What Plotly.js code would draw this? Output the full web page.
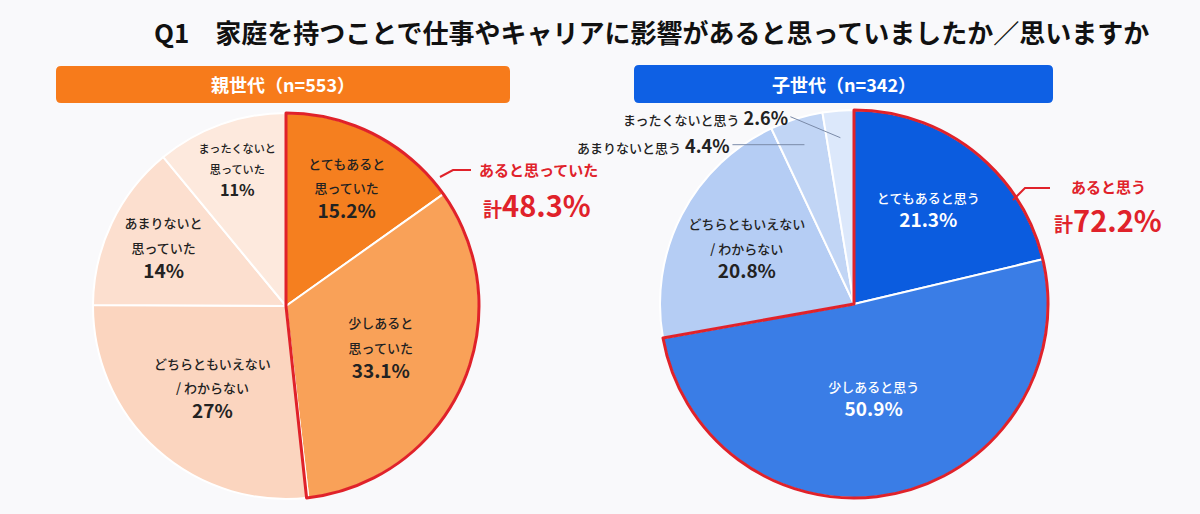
<!DOCTYPE html>
<html>
<head>
<meta charset="utf-8">
<script src="https://cdn.plot.ly/plotly-3.0.1.min.js"></script>
<style>
  html, body { margin: 0; padding: 0; background: #f9f9fb; }
  #chart { width: 1200px; height: 514px; }
</style>
</head>
<body>
<div id="chart"></div>
<script>
// data
const parentLabels = ['とてもあると<br>思っていた', '少しあると<br>思っていた', 'どちらともいえない<br>/ わからない', 'あまりないと<br>思っていた', 'まったくないと<br>思っていた'];
const parentValues = [15.2, 33.1, 27, 14, 11];
const parentColors = ['#f57f1f', '#f9a158', '#fbd5bf', '#fcdfcf', '#fde9dd'];

const childLabels = ['とてもあると思う', '少しあると思う', 'どちらともいえない<br>/ わからない', 'あまりないと思う', 'まったくないと思う'];
const childValues = [21.3, 50.9, 20.8, 4.4, 2.6];
const childColors = ['#0b5cdf', '#3a7de6', '#b5cdf4', '#c1d5f5', '#dce8fb'];

const parentTitle = '親世代（n=553）';
const childTitle = '子世代（n=342）';
const parentCallout = 'あると思っていた';
const childCallout = 'あると思う';

const W = 1200, H = 514;
const FONT = '"Noto Sans CJK JP", "Noto Sans", sans-serif';
const RED = '#e0222a';

// pixel -> paper helpers
function px(x) { return x / W; }
function py(y) { return 1 - y / H; }

function domainFor(cx, cy, r) {
    return { x: [px(cx - r), px(cx + r)], y: [py(cy + r), py(cy - r)] };
}

function sumFirst(vals, n) {
    let s = 0;
    for (let i = 0; i < n; i++) s += vals[i];
    return Math.round(s * 10) / 10;
}

function roundRect(x0, y0, x1, y1, r) {
    const rx = r / W, ry = r / H;
    const a = px(x0), b = px(x1), t = py(y0), d = py(y1);
    return 'M' + (a + rx) + ',' + t +
        ' L' + (b - rx) + ',' + t + ' Q' + b + ',' + t + ' ' + b + ',' + (t - ry) +
        ' L' + b + ',' + (d + ry) + ' Q' + b + ',' + d + ' ' + (b - rx) + ',' + d +
        ' L' + (a + rx) + ',' + d + ' Q' + a + ',' + d + ' ' + a + ',' + (d + ry) +
        ' L' + a + ',' + (t - ry) + ' Q' + a + ',' + t + ' ' + (a + rx) + ',' + t + ' Z';
}

function linePath(pts) {
    return pts.map((p, i) => (i ? 'L' : 'M') + px(p[0]) + ',' + py(p[1])).join(' ');
}

// small label lines, big percentage line underneath
function smallLines(label) {
    return label.split('<br>').map(l => '<span style="font-size:13px">' + l + '</span>').join('<br>');
}

const leftPie = { cx: 286, cy: 306, r: 193 };
const rightPie = { cx: 854, cy: 304, r: 194 };
const leftDomain = domainFor(leftPie.cx, leftPie.cy, leftPie.r);
const rightDomain = domainFor(rightPie.cx, rightPie.cy, rightPie.r);

function mainPie(labels, values, colors, textColors, positions, domain) {
    return {
        type: 'pie',
        labels: labels,
        values: values,
        text: labels.map(smallLines),
        sort: false,
        direction: 'clockwise',
        rotation: 0,
        domain: domain,
        marker: { colors: colors, line: { color: '#ffffff', width: 2 } },
        texttemplate: '%{text}<br><b>%{value}%</b>',
        textposition: positions,
        insidetextorientation: 'horizontal',
        insidetextfont: { family: FONT, size: 19, color: textColors, weight: 500 },
        hoverinfo: 'label+value',
        showlegend: false
    };
}

// transparent overlay that only outlines the "あると" share in red
function outlinePie(values, n, domain) {
    const yes = sumFirst(values, n);
    return {
        type: 'pie',
        labels: ['yes', 'rest'],
        values: [yes, Math.round((100 - yes) * 10) / 10],
        sort: false,
        direction: 'clockwise',
        rotation: 0,
        domain: domain,
        marker: {
            colors: ['rgba(0,0,0,0)', 'rgba(0,0,0,0)'],
            line: { color: [RED, 'rgba(0,0,0,0)'], width: 3 }
        },
        textinfo: 'none',
        hoverinfo: 'skip',
        showlegend: false
    };
}

// point on a slice (middle angle, fraction k of radius), in paper coords
function slicePoint(values, idx, pie, k) {
    let total = 0, before = 0;
    values.forEach((v, i) => { total += v; if (i < idx) before += v; });
    const ang = (before + values[idx] / 2) / total * 2 * Math.PI;
    return { x: px(pie.cx + pie.r * k * Math.sin(ang)), y: py(pie.cy - pie.r * k * Math.cos(ang)) };
}

const data = [
    mainPie(parentLabels, parentValues, parentColors, ['#222', '#222', '#222', '#222', '#222'],
        ['inside', 'inside', 'inside', 'inside', 'inside'], leftDomain),
    outlinePie(parentValues, 2, leftDomain),
    mainPie(childLabels, childValues, childColors, ['#fff', '#fff', '#222', '#222', '#222'],
        ['inside', 'inside', 'inside', 'none', 'none'], rightDomain),
    outlinePie(childValues, 2, rightDomain)
];

const parentYes = sumFirst(parentValues, 2).toFixed(1);
const childYes = sumFirst(childValues, 2).toFixed(1);

function note(text, x, y, size, color) {
    return { text: text, x: px(x), y: py(y), xref: 'paper', yref: 'paper', xanchor: 'center', yanchor: 'middle',
        showarrow: false, font: { family: FONT, size: size, color: color } };
}

// labels for the two thin slices of the right pie, pulled out with leader lines
function sliceCallout(idx, dx, dy) {
    const p = slicePoint(childValues, idx, rightPie, 0.86);
    return {
        text: '<span style="font-size:13px">' + childLabels[idx] + '</span> <b>' + childValues[idx] + '%</b>',
        x: p.x, y: p.y, xref: 'paper', yref: 'paper',
        ax: dx, ay: dy, axref: 'pixel', ayref: 'pixel',
        xanchor: 'right', yanchor: 'middle',
        showarrow: true, arrowhead: 0, arrowwidth: 1, arrowcolor: '#7a8aa8',
        font: { family: FONT, size: 18, color: '#222', weight: 500 }
    };
}

const layout = {
    width: W,
    height: H,
    margin: { l: 0, r: 0, t: 0, b: 0 },
    paper_bgcolor: '#f9f9fb',
    plot_bgcolor: '#f9f9fb',
    font: { family: FONT, color: '#222' },
    showlegend: false,
    shapes: [
        { type: 'path', xref: 'paper', yref: 'paper', layer: 'below', path: roundRect(56, 66, 510, 103, 5), fillcolor: '#f77b1b', line: { width: 0 } },
        { type: 'path', xref: 'paper', yref: 'paper', layer: 'below', path: roundRect(634, 65, 1053, 103, 5), fillcolor: '#0e60e4', line: { width: 0 } },
        { type: 'path', xref: 'paper', yref: 'paper', path: linePath([[440, 177], [453, 170], [471, 170]]), line: { color: RED, width: 2 } },
        { type: 'path', xref: 'paper', yref: 'paper', path: linePath([[1013, 200], [1025, 188], [1050, 188]]), line: { color: RED, width: 2 } }
    ],
    annotations: [
        note('<b>Q1　家庭を持つことで仕事やキャリアに影響があると思っていましたか／思いますか</b>', 651, 31, 26, '#111'),
        note('<b>' + parentTitle + '</b>', 283, 84, 18, '#fff'),
        note('<b>' + childTitle + '</b>', 844, 84, 18, '#fff'),
        note('<b>' + parentCallout + '</b>', 538, 170, 15, RED),
        note('<b><span style="font-size:19px">計</span>' + parentYes + '%</b>', 537, 204, 29, RED),
        note('<b>' + childCallout + '</b>', 1108, 186, 15, RED),
        note('<b><span style="font-size:19px">計</span>' + childYes + '%</b>', 1108, 219, 29, RED),
        sliceCallout(4, -50, -21),
        sliceCallout(3, -72, 0)
    ]
};

Plotly.newPlot('chart', data, layout, { staticPlot: true, responsive: false });
</script>
</body>
</html>
